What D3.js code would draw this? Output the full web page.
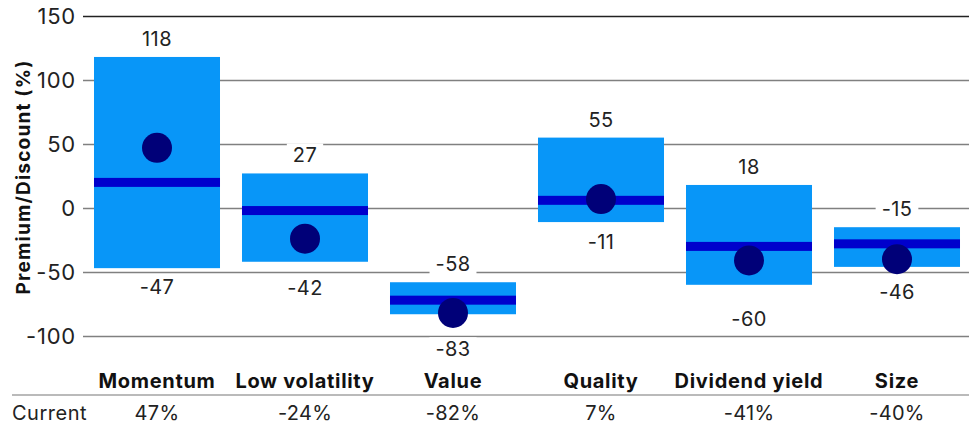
<!DOCTYPE html>
<html>
<head>
<meta charset="utf-8">
<script src="https://cdn.jsdelivr.net/npm/d3@7"></script>
<style>
  body { margin: 0; background: #fff; }
  svg { display: block; font-family: Inter, "Noto Sans", sans-serif; }
</style>
</head>
<body>
<div id="chart"></div>
<script>
// data
const categories = ["Momentum", "Low volatility", "Value", "Quality", "Dividend yield", "Size"];
const maxValues = [118, 27, -58, 55, 18, -15];
const minValues = [-47, -42, -83, -11, -60, -46];
const medianValues = [20, -2, -72, 6, -30, -28];
const currentValues = [47, -24, -82, 7, -41, -40];
const yTicks = [150, 100, 50, 0, -50, -100];

// layout: how far below the bar each min label sits (px), as in the original
const minLabelGap = [19, 26, 35, 20, 34, 25];

const w = 969;
const h = 425;

const svg = d3.select("#chart")
  .append("svg")
  .attr("width", w)
  .attr("height", h);

const xScale = d3.scaleBand()
  .domain(categories)
  .range([83, 971])
  .paddingInner(0.1486)
  .paddingOuter(0.0743);

const yScale = d3.scaleLinear()
  .domain([-100, 150])
  .range([336, 16]);

// gridlines + tick labels
const yAxis = d3.axisLeft(yScale)
  .tickValues(yTicks)
  .tickSize(-(w - 83))
  .tickPadding(7)
  .tickFormat(d => String(d));

svg.append("g")
  .attr("transform", "translate(83,0)")
  .call(yAxis)
  .call(g => g.select(".domain").remove())
  .call(g => g.selectAll(".tick line")
    .attr("stroke", d => d === 150 ? "#222" : "#808080")
    .attr("stroke-width", 1.5))
  .call(g => g.selectAll(".tick text")
    .attr("font-size", 22)
    .attr("letter-spacing", 0.8)
    .attr("fill", "#222")
    .attr("font-family", "Inter, 'Noto Sans', sans-serif"));

svg.append("text")
  .attr("transform", "translate(30," + 177 + ") rotate(-90)")
  .attr("text-anchor", "middle")
  .attr("font-size", 19)
  .attr("font-weight", 700)
  .attr("letter-spacing", 1.2)
  .attr("fill", "#111")
  .text("Premium/Discount (%)");

const data = categories.map((c, i) => ({
  name: c,
  max: maxValues[i],
  min: minValues[i],
  median: medianValues[i],
  current: currentValues[i],
  gap: minLabelGap[i]
}));

// range bars
svg.selectAll(".range")
  .data(data)
  .enter()
  .append("rect")
  .attr("class", "range")
  .attr("x", d => xScale(d.name))
  .attr("width", xScale.bandwidth())
  .attr("y", d => yScale(d.max))
  .attr("height", d => yScale(d.min) - yScale(d.max))
  .attr("fill", "#0896F8");

// median bars
svg.selectAll(".median")
  .data(data)
  .enter()
  .append("rect")
  .attr("class", "median")
  .attr("x", d => xScale(d.name))
  .attr("width", xScale.bandwidth())
  .attr("y", d => yScale(d.median) - 4.5)
  .attr("height", 9)
  .attr("fill", "#0000CC");

// current dots
svg.selectAll(".current")
  .data(data)
  .enter()
  .append("circle")
  .attr("class", "current")
  .attr("cx", d => xScale(d.name) + xScale.bandwidth() / 2)
  .attr("cy", d => yScale(d.current))
  .attr("r", 15)
  .attr("fill", "#000078");

// max/min labels with white knockout behind
function addLabel(x, y, txt) {
  const g = svg.append("g");
  const t = g.append("text")
    .attr("x", x)
    .attr("y", y)
    .attr("text-anchor", "middle")
    .attr("dominant-baseline", "central")
    .attr("font-size", 20)
    .attr("letter-spacing", 0.4)
    .attr("fill", "#222")
    .text(txt);
  const bb = t.node().getBBox();
  g.insert("rect", "text")
    .attr("x", bb.x - 6)
    .attr("y", bb.y)
    .attr("width", bb.width + 12)
    .attr("height", bb.height)
    .attr("fill", "#fff");
}

data.forEach(d => {
  const cx = xScale(d.name) + xScale.bandwidth() / 2;
  addLabel(cx, yScale(d.max) - 18, d.max);
  addLabel(cx, yScale(d.min) + d.gap, d.min);
});

// category labels
svg.selectAll(".cat")
  .data(data)
  .enter()
  .append("text")
  .attr("class", "cat")
  .attr("x", d => xScale(d.name) + xScale.bandwidth() / 2)
  .attr("y", 388)
  .attr("text-anchor", "middle")
  .attr("font-size", 20)
  .attr("font-weight", 700)
  .attr("letter-spacing", 0.7)
  .attr("fill", "#111")
  .text(d => d.name);

svg.append("line")
  .attr("x1", 12)
  .attr("x2", w)
  .attr("y1", 395)
  .attr("y2", 395)
  .attr("stroke", "#777")
  .attr("stroke-width", 1.2);

// current row
svg.append("text")
  .attr("x", 12)
  .attr("y", 420)
  .attr("font-size", 20)
  .attr("letter-spacing", 0.5)
  .attr("fill", "#222")
  .text("Current");

svg.selectAll(".curval")
  .data(data)
  .enter()
  .append("text")
  .attr("class", "curval")
  .attr("x", d => xScale(d.name) + xScale.bandwidth() / 2)
  .attr("y", 420)
  .attr("text-anchor", "middle")
  .attr("font-size", 20)
  .attr("letter-spacing", 0.3)
  .attr("fill", "#222")
  .text(d => d.current + "%");
</script>
</body>
</html>
